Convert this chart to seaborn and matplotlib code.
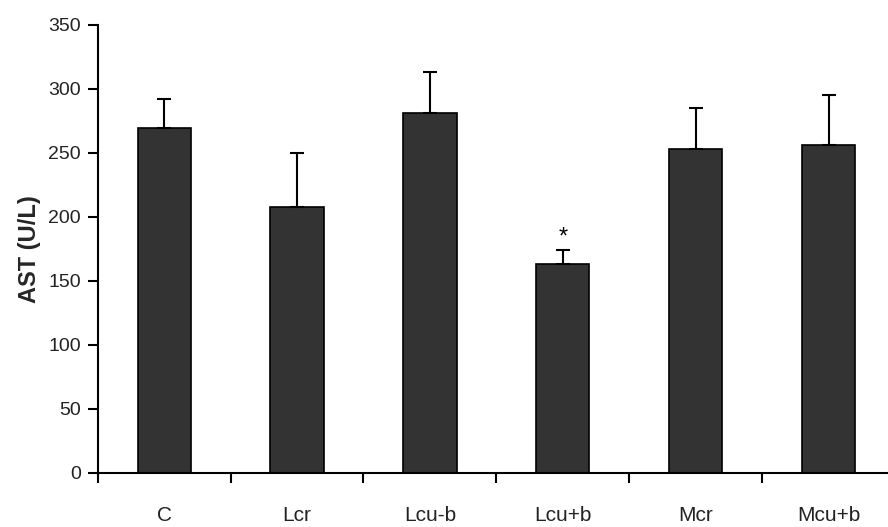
import matplotlib
matplotlib.use("Agg")
import matplotlib.pyplot as plt
import seaborn as sns
import numpy as np

# group names and AST means with the upper error
groups = ["C", "Lcr", "Lcu-b", "Lcu+b", "Mcr", "Mcu+b"]
ast_mean = [269, 208, 281, 163, 253, 256]
ast_err = [23, 42, 32, 11, 32, 39]
marks = ["", "", "", "*", "", ""]

sns.set_style("white")
plt.rcParams["font.family"] = ["Liberation Sans", "DejaVu Sans"]

fig = plt.figure(figsize=(8.88, 5.27), dpi=100)
ax = fig.add_axes([0.110, 0.103, 0.898, 0.850])

sns.barplot(x=groups, y=ast_mean, color="#333333", edgecolor="black",
            linewidth=1.2, width=0.4, saturation=1, ax=ax)

xpos = np.arange(len(groups))
ax.errorbar(xpos, ast_mean, yerr=[np.zeros(len(groups)), ast_err], fmt="none",
            ecolor="black", elinewidth=1.5, capsize=5, capthick=1.5)

for x, m, e, s in zip(xpos, ast_mean, ast_err, marks):
    if s:
        ax.text(x, m + e + 1, s, ha="center", va="bottom", fontsize=17, color="black")

ax.set_ylim(0, 350)
ax.set_xlim(-0.5, 5.5)
ax.set_yticks(range(0, 351, 50))
ax.set_ylabel("AST (U/L)", fontsize=17, fontweight="bold", labelpad=5)
ax.set_xlabel("")

for side in ["top", "right"]:
    ax.spines[side].set_visible(False)
for side in ["left", "bottom"]:
    ax.spines[side].set_linewidth(1.5)
    ax.spines[side].set_color("black")

ax.tick_params(axis="y", which="major", direction="out", length=7, width=1.5,
               labelsize=14, colors="#222222", pad=5, left=True)
ax.tick_params(axis="y", which="major", color="black")
ax.tick_params(axis="x", which="major", length=0, labelsize=15, pad=24,
               colors="#222222")
ax.set_xticks(np.arange(-0.5, 5.6, 1), minor=True)
ax.tick_params(axis="x", which="minor", direction="out", length=7, width=1.5,
               bottom=True, color="black")

fig.savefig("out.png", dpi=100)
